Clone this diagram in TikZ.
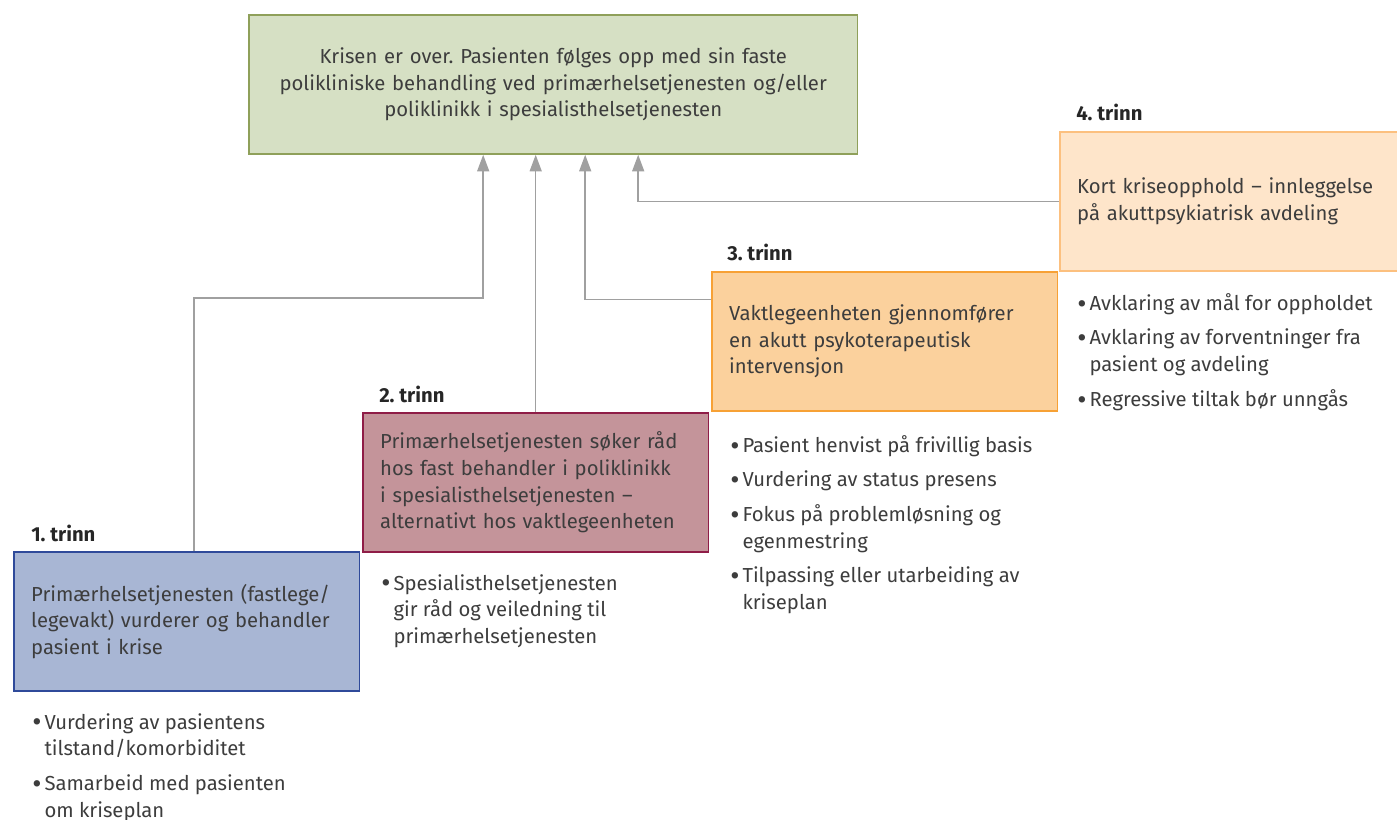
\documentclass[tikz,border=0pt]{standalone}
\usepackage{fontspec}
\setmainfont{Fira Sans}
\usetikzlibrary{arrows.meta}
\frenchspacing

\definecolor{tekst}{HTML}{3D3D3D}
\definecolor{linje}{HTML}{A0A0A0}
\definecolor{gronnfyll}{HTML}{D6E0C4}
\definecolor{gronnkant}{HTML}{8FA05A}
\definecolor{blafyll}{HTML}{A8B6D4}
\definecolor{blakant}{HTML}{2F4A9A}
\definecolor{rodfyll}{HTML}{C4949A}
\definecolor{rodkant}{HTML}{8F1D47}
\definecolor{orfyll}{HTML}{FBD19D}
\definecolor{orkant}{HTML}{F7A135}
\definecolor{lysfyll}{HTML}{FEE5CA}
\definecolor{lyskant}{HTML}{FCC07F}

\newcommand\pkt{\makebox[9.2pt][l]{\raisebox{-0.14em}{\scalebox{1.4}{\textbullet}}}}
\newcommand\inn{\hspace*{9.2pt}}

\begin{document}
\begin{tikzpicture}[x=0.75pt, y=-0.75pt, every node/.style={font=\fontsize{15.2}{20}\selectfont, text=tekst},
	boks/.style={draw, line width=1.3pt, minimum height=104.25pt, text width=233.25pt,
		inner xsep=13pt, inner ysep=0pt, align=left, anchor=north west},
	trinn/.style={font=\fontsize{15.2}{20}\selectfont\bfseries, text=black!85, anchor=base west, inner sep=0pt},
	punkt/.style={anchor=north west, align=left, inner sep=0pt},
	pil/.style={draw=linje, line width=1.1pt, -{Triangle[width=9pt,length=12.5pt]}}]
	\useasboundingbox (0,0) rectangle (1397,820);

	% Main box
	\node[boks, fill=gronnfyll, draw=gronnkant, text width=430.5pt, align=center] (g) at (248,14)
		{Krisen er over. Pasienten følges opp med sin faste\\
		 polikliniske behandling ved primærhelsetjenesten og/eller\\
		 poliklinikk i spesialisthelsetjenesten};

	% Steps
	\node[boks, fill=blafyll, draw=blakant] (b1) at (13,551)
		{Primærhelsetjenesten (fastlege/\\ legevakt) vurderer og behandler\\ pasient i krise};
	\node[boks, fill=rodfyll, draw=rodkant] (b2) at (362,412)
		{Primærhelsetjenesten søker råd\\ hos fast behandler i poliklinikk\\ i spesialisthelsetjenesten –\\ alternativt hos vaktlegeenheten};
	\node[boks, fill=orfyll, draw=orkant] (b3) at (711,271)
		{Vaktlegeenheten gjennomfører\\ en akutt psykoterapeutisk\\ intervensjon};
	\node[boks, fill=lysfyll, draw=lyskant] (b4) at (1059,131)
		{Kort kriseopphold – innleggelse\\ på akuttpsykiatrisk avdeling};

	% Step labels
	\node[trinn] (t1) at ([shift={(18,-10)}]b1.north west) {1. trinn};
	\node[trinn] (t2) at ([shift={(17,-10)}]b2.north west) {2. trinn};
	\node[trinn] (t3) at ([shift={(16,-10)}]b3.north west) {3. trinn};
	\node[trinn] (t4) at ([shift={(17,-10)}]b4.north west) {4. trinn};

	% Bullet lists
	\node[punkt] (p1) at (32,713)
		{\pkt Vurdering av pasientens\\ \inn tilstand/komorbiditet\\[6pt]
		 \pkt Samarbeid med pasienten\\ \inn om kriseplan};
	\node[punkt] (p2) at (381,574)
		{\pkt Spesialisthelsetjenesten\\ \inn gir råd og veiledning til\\ \inn primærhelsetjenesten};
	\node[punkt] (p3) at (730,435)
		{\pkt Pasient henvist på frivillig basis\\[6pt]
		 \pkt Vurdering av status presens\\[6pt]
		 \pkt Fokus på problemløsning og\\ \inn egenmestring\\[6pt]
		 \pkt Tilpassing eller utarbeiding av\\ \inn kriseplan};
	\node[punkt] (p4) at (1077,293)
		{\pkt Avklaring av mål for oppholdet\\[6pt]
		 \pkt Avklaring av forventninger fra\\ \inn pasient og avdeling\\[6pt]
		 \pkt Regressive tiltak bør unngås};

	% Arrows to main box
	\draw[pil] ([shift={(7.5,0)}]b1.north) -- ++(0,-253) -| ([shift={(-70,0)}]g.south);
	\draw[pil] (b2.north) -- (b2.north |- g.south);
	\draw[pil] ([shift={(0,-42)}]b3.west) -| ([shift={(32,0)}]g.south);
	\draw[pil] (b4.west) -| ([shift={(85,0)}]g.south);
\end{tikzpicture}
\end{document}
